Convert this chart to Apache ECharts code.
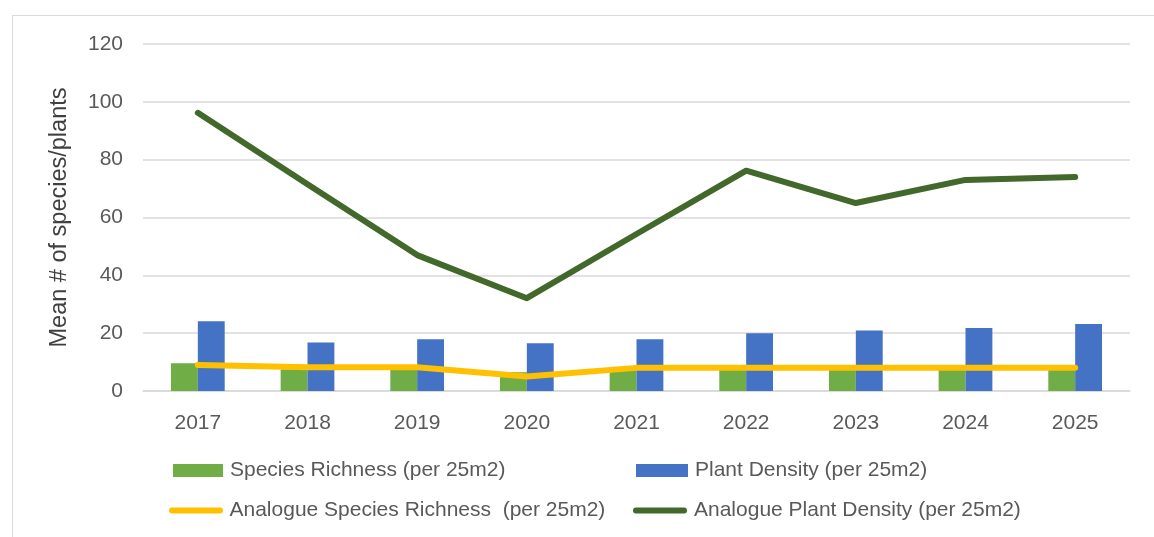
<!DOCTYPE html>
<html>
<head>
<meta charset="utf-8">
<script src="https://cdn.jsdelivr.net/npm/echarts@6/dist/echarts.min.js"></script>
<style>
html,body{margin:0;padding:0;background:#fff;}
#c{width:1154px;height:537px;}
</style>
</head>
<body>
<div id="c"></div>
<script>
const years = ['2017','2018','2019','2020','2021','2022','2023','2024','2025'];
const speciesRichness = [9.6, 7.5, 7.5, 6.5, 7.5, 7.5, 7.5, 7.5, 7.5];
const plantDensity = [24.1, 16.8, 17.9, 16.5, 17.9, 20.0, 20.9, 21.8, 23.2];
const analogueSpeciesRichness = [9.0, 8.2, 8.2, 5.0, 8.0, 8.0, 8.0, 8.0, 8.0];
const analoguePlantDensity = [96.2, 71.5, 47.0, 32.1, 54.3, 76.2, 65.0, 73.0, 74.0];
const yTicks = [0, 20, 40, 60, 80, 100, 120];

const names = ['Species Richness (per 25m2)', 'Plant Density (per 25m2)',
  'Analogue Species Richness  (per 25m2)', 'Analogue Plant Density (per 25m2)'];
const colors = ['#70ad47', '#4472c4', '#ffc000', '#43682b'];
const FONT = 'Liberation Sans';
const txt = {color:'#595959', fontFamily:FONT, fontSize:21};

function legendAt(i, left, top, w, line, pad) {
  return {
    left: left, top: top, orient:'horizontal', padding:0,
    itemWidth: w, itemHeight: line ? 6 : 13, itemGap: 0,
    textStyle: Object.assign({}, txt, {padding:[0,0,0,pad]}),
    data: [{name: names[i], icon: line ? 'path://M3,0 L51,0 A3,3 0 0 1 51,6 L3,6 A3,3 0 0 1 3,0 Z' : 'rect'}],
    selectedMode:false
  };
}

const chart = echarts.init(document.getElementById('c'), null, {renderer:'canvas'});
chart.setOption({
  animation:false,
  backgroundColor:'#fff',
  color: colors,
  graphic:[{type:'rect', shape:{x:12.5, y:15.5, width:1300, height:700}, style:{fill:'none', stroke:'#d9d9d9', lineWidth:1}, silent:true}],
  grid:{left:143, right:24, top:44, bottom:146, containLabel:false},
  legend:[
    legendAt(0, 173, 460, 50, false, 2),
    legendAt(1, 636, 460, 52, false, 2),
    legendAt(2, 169, 500, 55, true, 1),
    legendAt(3, 633, 500, 56, true, 1)
  ],
  xAxis:{type:'category', data:years,
    axisLine:{show:true, lineStyle:{color:'#d9d9d9', width:1.5}},
    axisTick:{show:false},
    axisLabel:Object.assign({}, txt, {margin:22})},
  yAxis:{type:'value', min:yTicks[0], max:yTicks[yTicks.length-1], interval:20,
    name:'Mean # of species/plants', nameLocation:'middle', nameGap:71,
    nameTextStyle:{color:'#404040', fontFamily:FONT, fontSize:23.5},
    axisLine:{show:false}, axisTick:{show:false},
    axisLabel:Object.assign({}, txt, {margin:20}),
    splitLine:{lineStyle:{color:'#d9d9d9', width:1.5}}},
  series:[
    {name:names[0], type:'bar', data:speciesRichness, itemStyle:{color:colors[0]}, barWidth:'24.5%', barGap:'0%'},
    {name:names[1], type:'bar', data:plantDensity, itemStyle:{color:colors[1]}, barWidth:'24.5%', barGap:'0%'},
    {name:names[2], type:'line', data:analogueSpeciesRichness, symbol:'none', z:3,
      lineStyle:{color:colors[2], width:6, cap:'round', join:'round'}, itemStyle:{color:colors[2]}},
    {name:names[3], type:'line', data:analoguePlantDensity, symbol:'none', z:4,
      lineStyle:{color:colors[3], width:6, cap:'round', join:'round'}, itemStyle:{color:colors[3]}}
  ]
});
</script>
</body>
</html>
